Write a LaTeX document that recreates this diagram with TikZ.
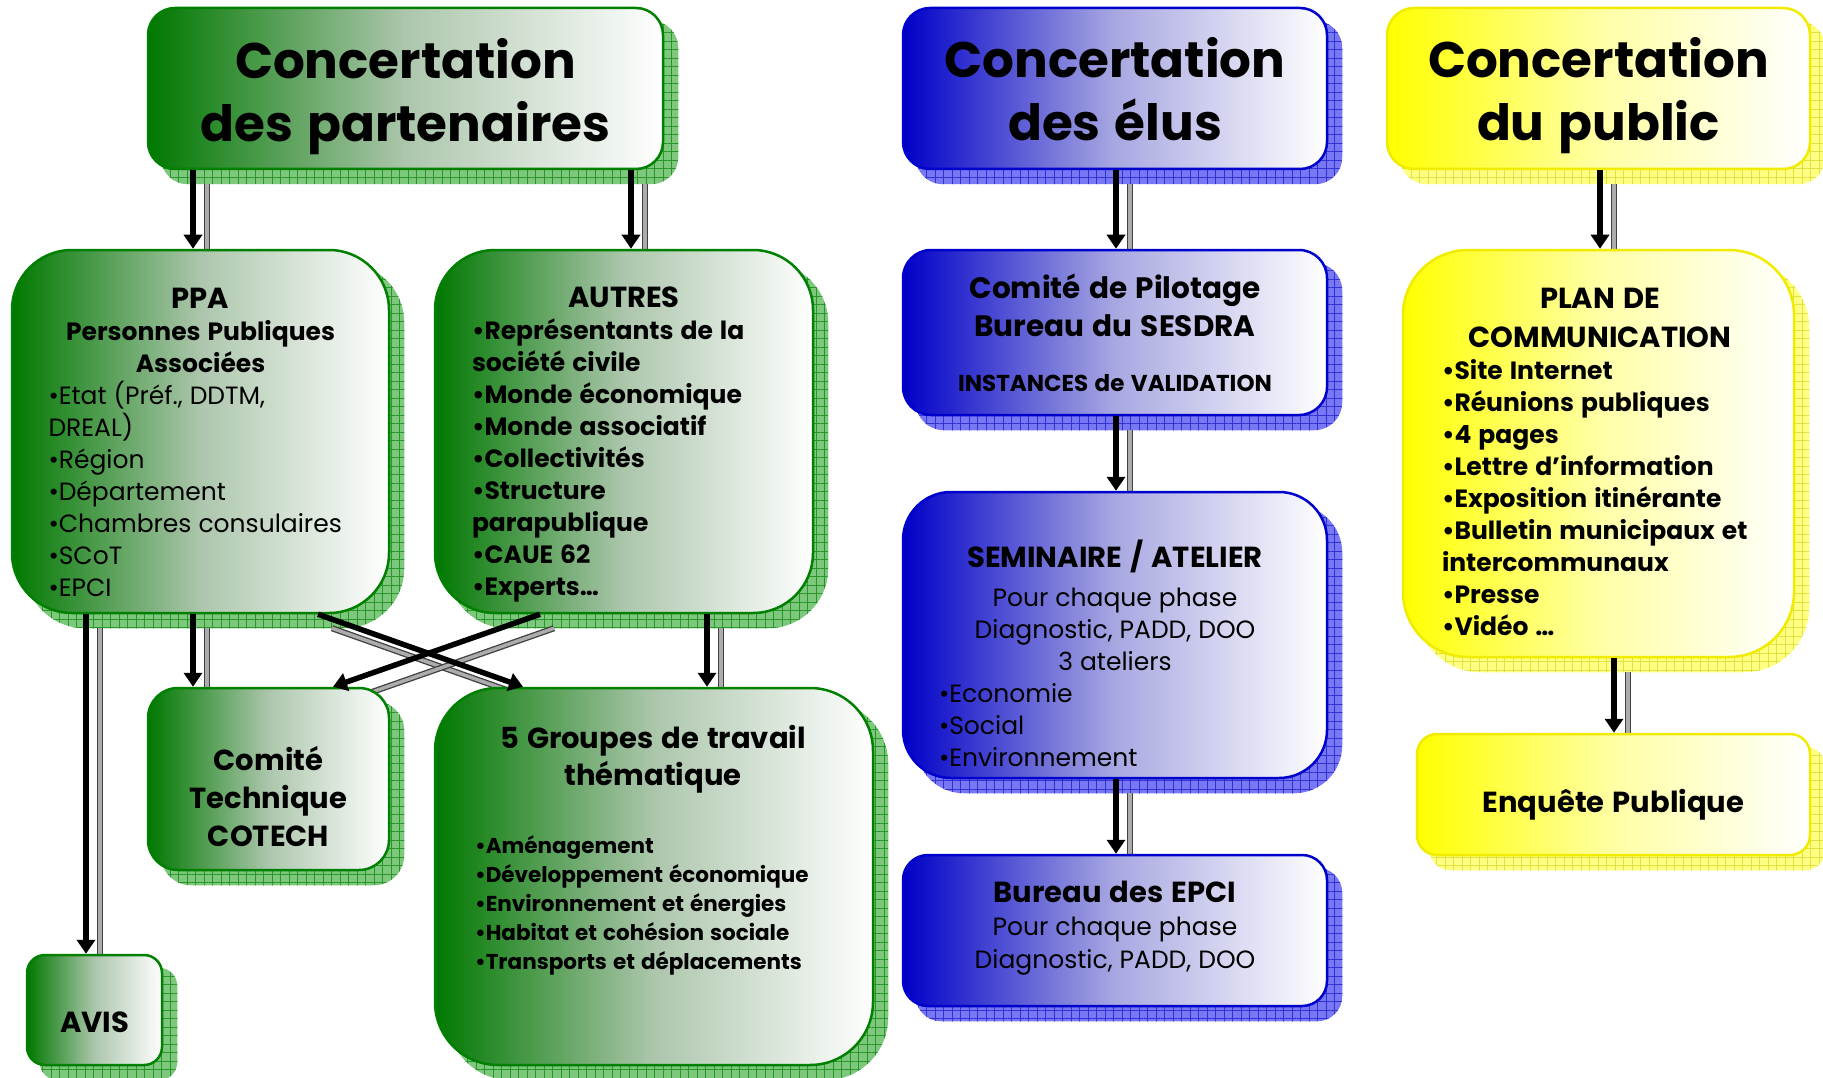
\documentclass[tikz,border=0pt]{standalone}
\usepackage{fontspec}
\setmainfont{Poppins}
\usetikzlibrary{arrows.meta,patterns.meta}

\definecolor{grnDark}{RGB}{0,120,0}
\definecolor{grnMid}{RGB}{172,198,172}
\definecolor{grnLine}{RGB}{0,128,0}
\definecolor{grnShadow}{RGB}{125,200,125}
\definecolor{grnGrid}{RGB}{40,150,40}
\definecolor{bluDark}{RGB}{0,0,200}
\definecolor{bluMid}{RGB}{168,168,226}
\definecolor{bluLine}{RGB}{0,0,204}
\definecolor{bluShadow}{RGB}{120,120,245}
\definecolor{bluGrid}{RGB}{50,50,210}
\definecolor{yelDark}{RGB}{255,255,0}
\definecolor{yelMid}{RGB}{255,255,165}
\definecolor{yelLine}{RGB}{240,235,0}
\definecolor{yelShadow}{RGB}{255,255,130}
\definecolor{yelGrid}{RGB}{225,225,70}

\newcommand\wsp{\spaceskip=0.28em plus 0.1em minus 0.05em\relax}
\newcommand\fTitle{\fontsize{50}{63}\selectfont\bfseries\wsp}
\newcommand\fHead{\fontsize{29}{37}\selectfont\bfseries\wsp}
\newcommand\fBody{\fontsize{25}{32}\selectfont\wsp}
\newcommand\fInst{\fontsize{23}{29}\selectfont\bfseries\wsp}
\newcommand\fSmall{\fontsize{21.5}{29}\selectfont\bfseries\wsp}

\pgfdeclarelayer{bg}
\pgfdeclarelayer{mid}
\pgfsetlayers{bg,mid,main}

\tikzset{
  gbox/.style={draw=grnLine, line width=2.5pt, inner sep=0pt, left color=grnDark, right color=white, middle color=grnMid},
  bbox/.style={draw=bluLine, line width=2.5pt, inner sep=0pt, left color=bluDark, right color=white, middle color=bluMid},
  ybox/.style={draw=yelLine, line width=2.5pt, inner sep=0pt, left color=yelDark, right color=white, middle color=yelMid},
  gshade/.style={fill=grnShadow, postaction={pattern={Hatch[angle=0,distance=8.5pt,line width=0.5pt]}, pattern color=grnGrid}},
  bshade/.style={fill=bluShadow, postaction={pattern={Hatch[angle=0,distance=8.5pt,line width=0.5pt]}, pattern color=bluGrid}},
  yshade/.style={fill=yelShadow, postaction={pattern={Hatch[angle=0,distance=8.5pt,line width=0.5pt]}, pattern color=yelGrid}},
  txt/.style={inner sep=0pt, anchor=base, text width=#1},
  lnk/.style={line width=5.5pt, -{Triangle[length=14pt,width=18pt]}},
  lnkshade/.style={draw=black!75, line width=1.3pt, double=gray!65, double distance=3.5pt},
}

\def\linklist{tpart/-212.5/ppa/-7.5, tpart/225.5/autres/7, telus/1/copil/1, tpub/1.5/plan/1.5,
  ppa/-7.5/cotech/-75.5, ppa/-114.5/avis/-8.5, autres/83/groupes/53, ppa/117.5/groupes/-131,
  autres/-84/cotech/64.5, copil/1/semin/1, semin/1/epci/1, plan/15.5/enquete/0.5}

\begin{document}
\begin{tikzpicture}[x=1pt,y=-1pt]
\useasboundingbox (0,0) rectangle (1823,1078);

% boxes
\node[gbox, rounded corners=27pt, minimum width=515pt, minimum height=161pt] (tpart) at (405.5,88.5) {};
\node[bbox, rounded corners=27pt, minimum width=424pt, minimum height=161pt] (telus) at (1115,88.5) {};
\node[ybox, rounded corners=27pt, minimum width=423pt, minimum height=161pt] (tpub) at (1598.5,88.5) {};
\node[gbox, rounded corners=60pt, minimum width=377pt, minimum height=363pt] (ppa) at (200.5,431.5) {};
\node[gbox, rounded corners=60pt, minimum width=378pt, minimum height=363pt] (autres) at (624,431.5) {};
\node[bbox, rounded corners=28pt, minimum width=424pt, minimum height=165pt] (copil) at (1115,332.5) {};
\node[ybox, rounded corners=65pt, minimum width=391pt, minimum height=407pt] (plan) at (1598.5,453.5) {};
\node[gbox, rounded corners=30pt, minimum width=241pt, minimum height=182pt] (cotech) at (268.5,779) {};
\node[gbox, rounded corners=63pt, minimum width=438pt, minimum height=377pt] (groupes) at (654,876.5) {};
\node[bbox, rounded corners=48pt, minimum width=424pt, minimum height=286pt] (semin) at (1115,635) {};
\node[ybox, rounded corners=20pt, minimum width=393pt, minimum height=121pt] (enquete) at (1613.5,794.5) {};
\node[bbox, rounded corners=25pt, minimum width=424pt, minimum height=151pt] (epci) at (1115,930.5) {};
\node[gbox, rounded corners=18pt, minimum width=135pt, minimum height=110pt] (avis) at (94.5,1010) {};

% shadows
\begin{pgfonlayer}{bg}
\foreach \n/\s/\r in {tpart/gshade/27, telus/bshade/27, tpub/yshade/27, ppa/gshade/60, autres/gshade/60,
    copil/bshade/28, plan/yshade/65, cotech/gshade/30, groupes/gshade/63, semin/bshade/48,
    enquete/yshade/20, epci/bshade/25, avis/gshade/18}
  \fill[\s, rounded corners=\r pt] ([shift={(14,14)}]\n.south west) rectangle ([shift={(14,14)}]\n.north east);
\end{pgfonlayer}

% texts
\node[txt=515pt] (tpart-t) at (405.5,79) {\centering\fTitle Concertation\\des partenaires\par};
\node[txt=424pt] (telus-t) at (1115,78) {\centering\fTitle Concertation\\des élus\par};
\node[txt=423pt] (tpub-t) at (1598.5,78) {\centering\fTitle Concertation\\du public\par};
\node[txt=304pt] (ppa-t) at (200.5,308) {\centering\fHead PPA\par\fBody\bfseries Personnes Publiques\\Associées\par
  \raggedright\mdseries •Etat (Préf., DDTM,\\DREAL)\\•Région\\•Département\\•Chambres consulaires\\•SCoT\\•EPCI\par};
\node[txt=304pt] (autres-t) at (624,307) {\centering\fHead AUTRES\par\raggedright\fBody\bfseries •Représentants de la\\société civile\\
  •Monde économique\\•Monde associatif\\•Collectivités\\•Structure\\parapublique\\•CAUE 62\\•Experts…\par};
\node[txt=424pt] (copil-t) at (1115,298) {\centering\fontsize{29.5}{38}\selectfont\bfseries\wsp Comité de Pilotage\\Bureau du SESDRA\par
  \vspace{26pt}\fInst INSTANCES de VALIDATION\par};
\node[txt=352pt] (semin-t) at (1115,567) {\centering\fHead SEMINAIRE / ATELIER\par\vspace{7pt}\fBody\mdseries
  Pour chaque phase\\Diagnostic, PADD, DOO\\3 ateliers\par\raggedright •Economie\\•Social\\•Environnement\par};
\node[txt=316pt] (plan-t) at (1600,308) {\centering\fontsize{29}{39}\selectfont\bfseries\wsp PLAN DE\\COMMUNICATION\par
  \raggedright\fBody\bfseries •Site Internet\\•Réunions publiques\\•4 pages\\•Lettre d’information\\•Exposition itinérante\\
  •Bulletin municipaux et\\intercommunaux\\•Presse\\•Vidéo …\par};
\node[txt=241pt] (cotech-t) at (268.5,770) {\centering\fontsize{29}{38}\selectfont\bfseries Comité\\Technique\\COTECH\par};
\node[txt=356pt] (groupes-t) at (653,748) {\centering\fHead 5 Groupes de travail\\thématique\par\vspace{39pt}
  \raggedright\fSmall •Aménagement\\•Développement économique\\•Environnement et énergies\\•Habitat et cohésion sociale\\
  •Transports et déplacements\par};
\node[txt=135pt] (avis-t) at (94.5,1032) {\centering\fHead AVIS\par};
\node[txt=393pt] (enquete-t) at (1613.5,812) {\centering\fHead Enquête Publique\par};
\node[txt=424pt] (epci-t) at (1115,902) {\centering\fHead Bureau des EPCI\par\fontsize{25}{33}\selectfont\mdseries\wsp
  Pour chaque phase\\Diagnostic, PADD, DOO\par};

% links
\begin{pgfonlayer}{mid}
\foreach \a/\da/\b/\db in \linklist
  \draw[lnkshade] ([xshift=\da pt+14pt,yshift=-14pt]\a.south) -- ([xshift=\db pt+14pt,yshift=-14pt]\b.north);
\end{pgfonlayer}
\foreach \a/\da/\b/\db in \linklist
  \draw[lnk] ([xshift=\da pt]\a.south) -- ([xshift=\db pt]\b.north);
\end{tikzpicture}
\end{document}
